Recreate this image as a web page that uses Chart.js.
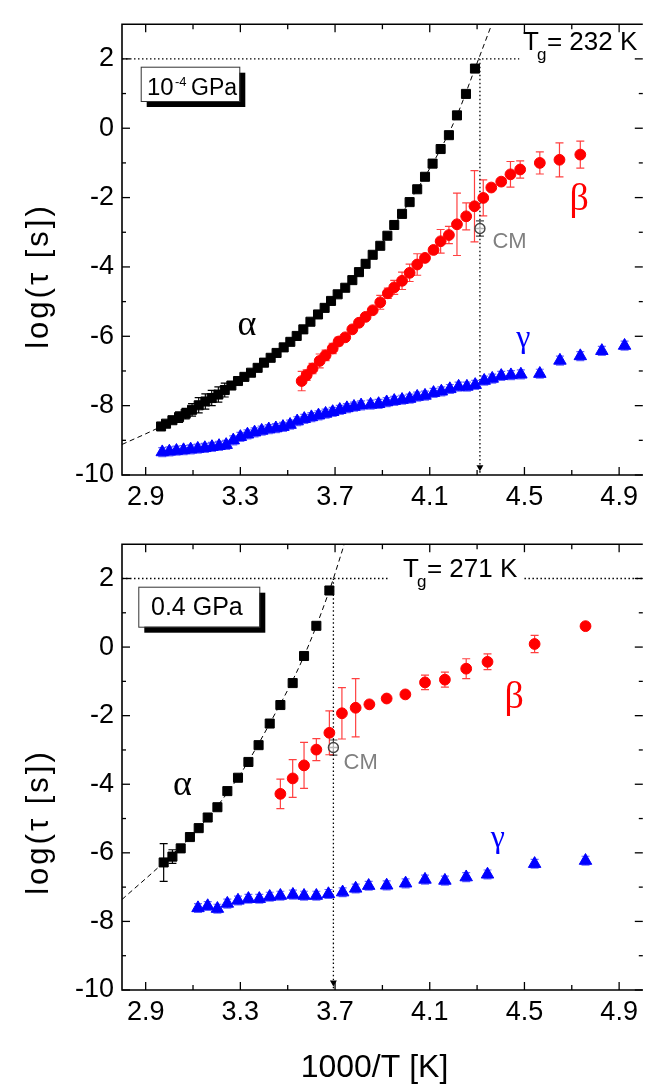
<!DOCTYPE html>
<html>
<head>
<meta charset="utf-8">
<script src="https://cdn.jsdelivr.net/npm/chart.js@4.4.0/dist/chart.umd.min.js"></script>
<style>
  html, body { margin: 0; padding: 0; background: #fff; }
  #wrap { position: relative; width: 651px; height: 1084px; }
  .panel { position: absolute; left: 0; width: 651px; }
  #topPanel { top: 0; height: 520px; }
  #bottomPanel { top: 520px; height: 564px; }
</style>
</head>
<body>
<div id="wrap">
  <div class="panel" id="topPanel"><canvas id="topChart"></canvas></div>
  <div class="panel" id="bottomPanel"><canvas id="bottomChart"></canvas></div>
</div>
<script>
// ---- axes ----
const xLabelValues = [2.9, 3.3, 3.7, 4.1, 4.5, 4.9];
const xMinorValues = [3.1, 3.5, 3.9, 4.3, 4.7];
const yLabelValues = [-10, -8, -6, -4, -2, 0, 2];
const yMinorValues = [-9, -7, -5, -3, -1, 1];

// ---- top panel (10^-4 GPa) ----
const topAlphaX = [2.965, 2.986, 3.013, 3.041, 3.069, 3.096, 3.124, 3.152, 3.179, 3.207, 3.234, 3.262,
  3.290, 3.317, 3.345, 3.373, 3.400, 3.428, 3.453, 3.483, 3.511, 3.538, 3.566, 3.596, 3.628, 3.656,
  3.683, 3.711, 3.743, 3.773, 3.801, 3.829, 3.859, 3.891, 3.921, 3.950, 3.983, 4.015, 4.047, 4.080,
  4.112, 4.146, 4.181, 4.215, 4.253, 4.291];
const topAlphaY = [-8.60, -8.52, -8.42, -8.33, -8.23, -8.12, -7.99, -7.88, -7.78, -7.68, -7.55, -7.42,
  -7.29, -7.17, -7.05, -6.91, -6.76, -6.62, -6.48, -6.32, -6.16, -5.99, -5.80, -5.58, -5.37, -5.18,
  -4.98, -4.79, -4.60, -4.38, -4.15, -3.91, -3.65, -3.39, -3.10, -2.79, -2.47, -2.13, -1.76, -1.40,
  -1.02, -0.60, -0.20, 0.37, 0.99, 1.72];
const topAlphaErr = [0, 0, 0, 0.15, 0.15, 0.18, 0.22, 0.22, 0.22, 0.22, 0.2, 0, 0, 0, 0, 0, 0, 0, 0, 0, 0,
  0, 0, 0, 0, 0, 0, 0, 0, 0, 0, 0, 0, 0, 0, 0, 0, 0, 0, 0, 0, 0, 0, 0, 0, 0];

const topBetaX = [3.559, 3.580, 3.605, 3.635, 3.660, 3.690, 3.715, 3.743, 3.773, 3.801, 3.829, 3.859,
  3.891, 3.923, 3.950, 3.983, 4.015, 4.047, 4.080, 4.116, 4.146, 4.181, 4.215, 4.254, 4.289, 4.326,
  4.360, 4.402, 4.441, 4.482, 4.565, 4.648, 4.736];
const topBetaY = [-7.29, -7.12, -6.93, -6.71, -6.55, -6.35, -6.15, -6.03, -5.80, -5.61, -5.44, -5.25,
  -5.02, -4.76, -4.59, -4.40, -4.17, -3.93, -3.74, -3.51, -3.26, -3.08, -2.77, -2.54, -2.25, -2.01,
  -1.71, -1.54, -1.33, -1.19, -1.00, -0.91, -0.76];
const topBetaErr = [0.28, 0.15, 0.15, 0.2, 0.15, 0.15, 0.12, 0, 0, 0, 0, 0, 0.2, 0.15, 0.2, 0.25, 0.25,
  0.31, 0, 0, 0.34, 0.25, 0.9, 0.39, 1.03, 0.52, 0, 0, 0.37, 0.25, 0.32, 0.49, 0.39];

const topGammaX = [2.97, 3.00, 3.03, 3.06, 3.09, 3.12, 3.15, 3.18, 3.21, 3.24, 3.27, 3.30, 3.33, 3.36,
  3.39, 3.42, 3.45, 3.48, 3.51, 3.54, 3.57, 3.60, 3.63, 3.66, 3.69, 3.72, 3.75, 3.78, 3.81, 3.85,
  3.884, 3.918, 3.950, 3.983, 4.015, 4.047, 4.080, 4.116, 4.149, 4.185, 4.222, 4.257, 4.292, 4.330,
  4.364, 4.402, 4.443, 4.485, 4.565, 4.650, 4.736, 4.827, 4.923];
const topGammaY = [-9.34, -9.32, -9.30, -9.28, -9.26, -9.24, -9.22, -9.19, -9.16, -9.13, -9.00, -8.90,
  -8.83, -8.77, -8.72, -8.68, -8.65, -8.61, -8.55, -8.45, -8.38, -8.33, -8.28, -8.23, -8.18, -8.12,
  -8.07, -8.03, -7.99, -7.97, -7.95, -7.90, -7.86, -7.83, -7.80, -7.74, -7.71, -7.63, -7.59, -7.52,
  -7.45, -7.45, -7.40, -7.28, -7.22, -7.14, -7.12, -7.10, -7.08, -6.70, -6.57, -6.42, -6.27];
const topGammaErr = topGammaX.map(() => 0.13);

const topCM = { x: 4.312, y: -2.89, err: 0.22 };
const topFitX = [2.80, 2.965, 3.124, 3.317, 3.511, 3.683, 3.829, 3.950, 4.047, 4.146, 4.215, 4.291, 4.362];
const topFitY = [-9.12, -8.60, -7.99, -7.17, -6.16, -4.98, -3.91, -2.79, -1.76, -0.60, 0.37, 1.72, 3.0];
const topTgX = 4.312;
const topTgLineEndX = 4.478;

// ---- bottom panel (0.4 GPa) ----
const botAlphaX = [2.976, 3.013, 3.048, 3.087, 3.124, 3.162, 3.203, 3.245, 3.290, 3.334, 3.377, 3.424,
  3.469, 3.521, 3.569, 3.621, 3.676];
const botAlphaY = [-6.28, -6.11, -5.87, -5.54, -5.28, -4.97, -4.67, -4.20, -3.81, -3.35, -2.86, -2.23,
  -1.69, -1.05, -0.26, 0.62, 1.65];
const botAlphaErr = [0.55, 0.2, 0, 0, 0, 0, 0, 0, 0, 0, 0, 0, 0, 0, 0, 0, 0];

const botBetaX = [3.469, 3.521, 3.569, 3.621, 3.676, 3.729, 3.787, 3.845, 3.918, 3.997, 4.080, 4.164,
  4.254, 4.344, 4.543, 4.758];
const botBetaY = [-4.28, -3.83, -3.45, -2.99, -2.50, -1.93, -1.77, -1.67, -1.50, -1.38, -1.03, -0.95,
  -0.63, -0.43, 0.09, 0.61];
const botBetaErr = [0.43, 0.55, 0.67, 0.32, 0.64, 0.75, 0.85, 0, 0, 0, 0.21, 0.22, 0.29, 0.23, 0.25, 0];

const botGammaX = [3.121, 3.162, 3.203, 3.245, 3.290, 3.334, 3.380, 3.424, 3.469, 3.522, 3.569, 3.621,
  3.672, 3.732, 3.787, 3.842, 3.918, 3.998, 4.080, 4.164, 4.254, 4.344, 4.543, 4.758];
const botGammaY = [-7.61, -7.55, -7.63, -7.48, -7.39, -7.34, -7.34, -7.28, -7.25, -7.22, -7.25, -7.25,
  -7.20, -7.15, -7.04, -6.96, -6.95, -6.89, -6.78, -6.81, -6.71, -6.63, -6.32, -6.23];
const botGammaErr = botGammaX.map(() => 0.13);

const botCM = { x: 3.693, y: -2.93, err: 0.22 };
const botFitX = [2.80, 2.976, 3.124, 3.290, 3.424, 3.569, 3.676, 3.739];
const botFitY = [-7.36, -6.28, -5.28, -3.81, -2.23, -0.26, 1.65, 3.0];
const botTgX = 3.693;
const botTgGap = [3.924, 4.50];

const FONT = "'Liberation Sans', Arial, Helvetica, sans-serif";
const SERIF = "'Liberation Serif', 'Times New Roman', serif";

function pts(xs, ys) {
  return xs.map((x, i) => ({ x: x, y: ys[i] }));
}

function markers(xs, ys, errs, style, color, radius, errColor) {
  return {
    data: pts(xs, ys),
    errors: errs,
    errorColor: errColor,
    pointStyle: style,
    pointRadius: radius,
    backgroundColor: color,
    borderColor: color,
    borderWidth: 1,
    showLine: false
  };
}

function line(data, dash, width) {
  return {
    data: data,
    showLine: true,
    pointRadius: 0,
    borderColor: '#000',
    borderWidth: width,
    borderDash: dash,
    backgroundColor: 'transparent',
    cubicInterpolationMode: 'monotone',
    fill: false
  };
}

function cmSets(cm) {
  return [
    { data: [{ x: cm.x, y: cm.y }], errors: [cm.err], errorColor: '#444', pointStyle: 'circle',
      pointRadius: 5, borderWidth: 1.4, borderColor: '#444', backgroundColor: 'rgba(255,255,255,0.6)' },
    { data: [{ x: cm.x, y: cm.y }], pointStyle: 'line', pointRadius: 5, borderWidth: 1.4, borderColor: '#444' }
  ];
}

const errorBarPlugin = {
  id: 'errorBars',
  beforeDatasetsDraw(chart) {
    const { ctx, scales: { x, y } } = chart;
    chart.data.datasets.forEach(ds => {
      if (!ds.errors) return;
      ctx.save();
      ctx.strokeStyle = ds.errorColor;
      ctx.lineWidth = 1.2;
      ds.data.forEach((p, i) => {
        const e = ds.errors[i];
        if (!e) return;
        const px = x.getPixelForValue(p.x);
        const y1 = y.getPixelForValue(p.y + e);
        const y2 = y.getPixelForValue(p.y - e);
        ctx.beginPath();
        ctx.moveTo(px, y1); ctx.lineTo(px, y2);
        ctx.moveTo(px - 4, y1); ctx.lineTo(px + 4, y1);
        ctx.moveTo(px - 4, y2); ctx.lineTo(px + 4, y2);
        ctx.stroke();
      });
      ctx.restore();
    });
  }
};

const framePlugin = {
  id: 'frame',
  afterDraw(chart) {
    const { ctx, chartArea: a, scales: { x, y } } = chart;
    ctx.save();
    ctx.strokeStyle = '#000';
    ctx.lineWidth = 1.6;
    ctx.beginPath();
    ctx.moveTo(a.right, a.top); ctx.lineTo(a.left, a.top);
    ctx.lineTo(a.left, a.bottom); ctx.lineTo(a.right, a.bottom);
    ctx.stroke();
    ctx.lineWidth = 1.3;
    const tick = (x1, y1, x2, y2) => { ctx.beginPath(); ctx.moveTo(x1, y1); ctx.lineTo(x2, y2); ctx.stroke(); };
    xLabelValues.concat(xMinorValues).forEach(v => {
      const px = x.getPixelForValue(v);
      const len = xLabelValues.includes(v) ? 8 : 5;
      tick(px, a.bottom, px, a.bottom - len);
      tick(px, a.top, px, a.top + len);
    });
    yLabelValues.concat(yMinorValues).forEach(v => {
      const py = y.getPixelForValue(v);
      const len = yLabelValues.includes(v) ? 8 : 4;
      tick(a.left, py, a.left + len, py);
      tick(a.right, py, a.right - len, py);
    });
    ctx.restore();
  }
};

function textPlugin(cfg) {
  return {
    id: 'texts',
    afterDraw(chart) {
      const { ctx, scales: { x, y } } = chart;
      ctx.save();
      ctx.textBaseline = 'middle';
      ctx.textAlign = 'center';
      cfg.greek.forEach(g => {
        ctx.font = g.size + 'px ' + SERIF;
        ctx.fillStyle = g.color;
        ctx.fillText(g.text, x.getPixelForValue(g.x), y.getPixelForValue(g.y));
      });
      // CM label
      ctx.font = '22px ' + FONT;
      ctx.fillStyle = '#808080';
      ctx.fillText('CM', x.getPixelForValue(cfg.cm.x), y.getPixelForValue(cfg.cm.y));

      // Tg label
      ctx.textAlign = 'left';
      ctx.textBaseline = 'alphabetic';
      ctx.fillStyle = '#000';
      ctx.font = '26px ' + FONT;
      const tx = cfg.tg.x, ty = cfg.tg.y;
      ctx.fillText('T', tx, ty);
      const tw = ctx.measureText('T').width;
      ctx.fillText(cfg.tg.rest, tx + tw + 8, ty);
      ctx.font = '17px ' + FONT;
      ctx.fillText('g', tx + tw - 2, ty + 10);

      // pressure box with shadow
      const b = cfg.box;
      ctx.fillStyle = '#000';
      ctx.fillRect(b.x + 6, b.y + 6, b.w, b.h);
      ctx.fillStyle = '#fff';
      ctx.fillRect(b.x, b.y, b.w, b.h);
      ctx.strokeStyle = '#333';
      ctx.lineWidth = 1;
      ctx.strokeRect(b.x + 0.5, b.y + 0.5, b.w, b.h);
      ctx.fillStyle = '#000';
      b.parts.forEach(p => {
        ctx.font = p.size + 'px ' + FONT;
        ctx.fillText(p.text, p.x, p.y);
      });

      // y title
      ctx.save();
      ctx.translate(cfg.yTitle.x, cfg.yTitle.y);
      ctx.rotate(-Math.PI / 2);
      ctx.textAlign = 'center';
      ctx.textBaseline = 'middle';
      ctx.font = '31px ' + FONT;
      ctx.letterSpacing = '3px';
      ctx.fillText('log(τ [s])', 0, 0);
      ctx.restore();

      if (cfg.xTitle) {
        ctx.textAlign = 'center';
        ctx.font = '32px ' + FONT;
        ctx.fillText('1000/T [K]', cfg.xTitle.x, cfg.xTitle.y);
      }
      ctx.restore();
    }
  };
}

function makeOptions(padTop, xAxisHeight) {
  return {
    responsive: true,
    maintainAspectRatio: false,
    animation: false,
    devicePixelRatio: 1,
    layout: { padding: { top: padTop, right: 0, left: 0, bottom: 0 } },
    plugins: { legend: { display: false }, tooltip: { enabled: false } },
    scales: {
      x: {
        type: 'linear', min: 2.8, max: 5.0,
        afterBuildTicks: s => { s.ticks = xLabelValues.map(v => ({ value: v })); },
        afterFit: s => { s.height = xAxisHeight; },
        grid: { display: false, drawTicks: false },
        border: { display: false },
        ticks: { color: '#000', padding: 6, maxRotation: 0, autoSkip: false,
          font: { family: FONT, size: 27 }, callback: v => v.toFixed(1) }
      },
      y: {
        type: 'linear', min: -10, max: 3,
        afterBuildTicks: s => { s.ticks = yLabelValues.map(v => ({ value: v })); },
        afterFit: s => { s.width = 122; },
        grid: { display: false, drawTicks: false },
        border: { display: false },
        ticks: { color: '#000', padding: 8, autoSkip: false,
          font: { family: FONT, size: 27 }, callback: v => String(v) }
      }
    }
  };
}

const red = '#ff0000', blue = '#0000ff', black = '#000000';

new Chart(document.getElementById('topChart'), {
  type: 'scatter',
  data: {
    datasets: [
      ...cmSets(topCM),
      markers(topAlphaX, topAlphaY, topAlphaErr, 'rect', black, 6.4, '#000'),
      markers(topBetaX, topBetaY, topBetaErr, 'circle', red, 5.4, 'rgba(255,0,0,0.75)'),
      markers(topGammaX, topGammaY, topGammaErr, 'triangle', blue, 7.2, 'rgba(40,40,255,0.7)'),
      { data: [{ x: topTgX, y: -9.78 }], pointStyle: 'triangle', rotation: 180, pointRadius: 4,
        backgroundColor: '#000', borderWidth: 0 },
      line(pts(topFitX, topFitY), [5, 3.5], 1),
      line([{ x: 2.8, y: 2 }, { x: topTgLineEndX, y: 2 }], [1.5, 2.5], 1.3),
      line([{ x: topTgX, y: 2 }, { x: topTgX, y: -10 }], [1.5, 2.5], 1.3)
    ]
  },
  options: makeOptions(16, 45),
  plugins: [errorBarPlugin, framePlugin, textPlugin({
    greek: [
      { text: 'α', x: 3.328, y: -5.69, color: black, size: 36 },
      { text: 'β', x: 4.731, y: -2.06, color: red, size: 38 },
      { text: 'γ', x: 4.495, y: -6.06, color: blue, size: 32 }
    ],
    cm: { x: 4.437, y: -3.29 },
    tg: { x: 523, y: 50, rest: '= 232 K' },
    box: { x: 140.7, y: 66.7, w: 98.6, h: 34.3, parts: [
      { text: '10', x: 147, y: 95, size: 24 },
      { text: '-4', x: 175, y: 86, size: 13 },
      { text: 'GPa', x: 191, y: 95, size: 23 }
    ] },
    yTitle: { x: 39, y: 276 }
  })]
});

new Chart(document.getElementById('bottomChart'), {
  type: 'scatter',
  data: {
    datasets: [
      ...cmSets(botCM),
      markers(botAlphaX, botAlphaY, botAlphaErr, 'rect', black, 6.4, '#000'),
      markers(botBetaX, botBetaY, botBetaErr, 'circle', red, 5.4, 'rgba(255,0,0,0.75)'),
      markers(botGammaX, botGammaY, botGammaErr, 'triangle', blue, 7.2, 'rgba(40,40,255,0.7)'),
      { data: [{ x: botTgX, y: -9.78 }], pointStyle: 'triangle', rotation: 180, pointRadius: 4,
        backgroundColor: '#000', borderWidth: 0 },
      line(pts(botFitX, botFitY), [5, 3.5], 1),
      line([{ x: 2.8, y: 2 }, { x: botTgGap[0], y: 2 }], [1.5, 2.5], 1.3),
      line([{ x: botTgGap[1], y: 2 }, { x: 5.0, y: 2 }], [1.5, 2.5], 1.3),
      line([{ x: botTgX, y: 2 }, { x: botTgX, y: -10 }], [1.5, 2.5], 1.3)
    ]
  },
  options: makeOptions(14, 94),
  plugins: [errorBarPlugin, framePlugin, textPlugin({
    greek: [
      { text: 'α', x: 3.055, y: -4.04, color: black, size: 36 },
      { text: 'β', x: 4.457, y: -1.50, color: red, size: 38 },
      { text: 'γ', x: 4.388, y: -5.58, color: blue, size: 32 }
    ],
    cm: { x: 3.808, y: -3.37 },
    tg: { x: 403, y: 57, rest: '= 271 K' },
    box: { x: 138.3, y: 66.7, w: 121, h: 40, parts: [
      { text: '0.4 GPa', x: 151, y: 95, size: 25 }
    ] },
    yTitle: { x: 39, y: 302 },
    xTitle: { x: 374.5, y: 557 }
  })]
});
</script>
</body>
</html>
